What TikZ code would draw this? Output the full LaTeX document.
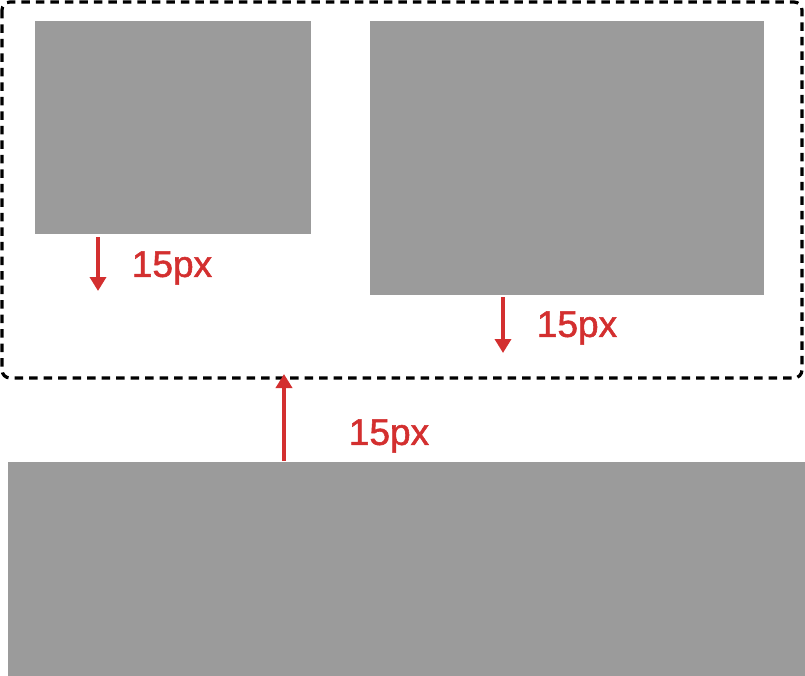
\documentclass[tikz,border=0pt]{standalone}
\usepackage{fontspec}
\setmainfont{Liberation Sans}
\newfontfamily\labelfont[FakeBold=1.5]{Liberation Sans}
\usetikzlibrary{arrows.meta}
\definecolor{boxgray}{HTML}{9B9B9B}
\definecolor{redmark}{HTML}{D32F2F}
\begin{document}
\begin{tikzpicture}[x=1pt,y=-1pt,
  graybox/.style={fill=boxgray,draw=none,inner sep=0,outer sep=0},
  frame/.style={draw=black,line width=3.2pt,dash pattern=on 8.5pt off 6pt,rounded corners=8pt},
  gaparrow/.style={draw=redmark,line width=4.5pt,-{Triangle[length=14pt,width=16pt]}},
  gaplabel/.style={text=redmark,font=\labelfont\fontsize{37}{40}\selectfont,inner sep=0,anchor=center}]
\useasboundingbox (0,0) rectangle (805,676);
\draw[frame] (2,2) rectangle (802,378);
\fill[boxgray] (35,21) rectangle (311,234);
\coordinate (a1s) at (98,237);
\coordinate (a1e) at (98,291);
\fill[boxgray] (370,21) rectangle (764,295);
\coordinate (a2s) at (503,297);
\coordinate (a2e) at (503,353);
\fill[boxgray] (8,462) rectangle (805,676);
\coordinate (a3s) at (284,461);
\coordinate (a3e) at (284,374);
\draw[gaparrow] (a1s) -- (a1e);
\draw[gaparrow] (a2s) -- (a2e);
\draw[gaparrow] (a3s) -- (a3e);
\node[gaplabel] (l1) at (172,268) {15px};
\node[gaplabel] (l2) at (577,328) {15px};
\node[gaplabel] (l3) at (389,436) {15px};
\end{tikzpicture}
\end{document}
